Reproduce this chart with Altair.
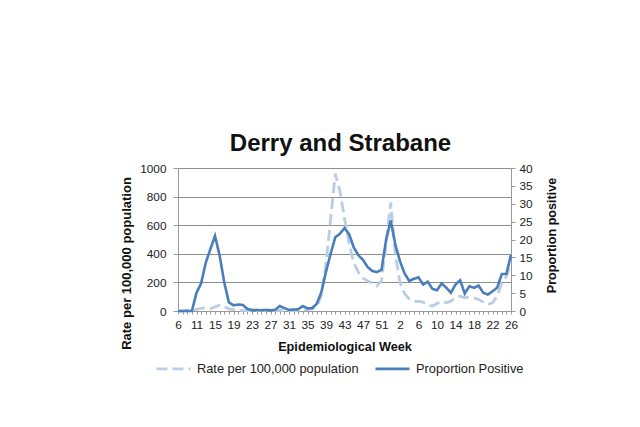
import altair as alt
import pandas as pd

# Epidemiological weeks (2020 weeks then 2021 weeks)
weeks = [6] + list(range(8, 54)) + list(range(1, 27))

# Rate per 100,000 population (left axis)
rate = [0, 0, 5, 8, 12, 18, 22, 15, 28, 40,
        30, 15, 10, 6, 4, 3, 2, 2, 2, 2,
        2, 3, 5, 4, 3, 3, 4, 8, 10, 15,
        35, 110, 330, 640, 960, 840, 650, 470, 340, 270,
        230, 210, 195, 175, 210, 470, 760, 390, 200, 120,
        85, 70, 68, 62, 40, 35, 53, 69, 58, 69,
        92, 104, 92, 99, 92, 81, 62, 46, 58, 104,
        196, 242, 330]

# Proportion positive (right axis)
pct = [0, 0, 0, 0, 5.1, 7.7, 13.5, 17.3, 21.0, 15.5,
       8.0, 2.4, 1.6, 1.8, 1.7, 0.6, 0.3, 0.3, 0.2, 0.3,
       0.2, 0.3, 1.4, 0.8, 0.3, 0.4, 0.5, 1.4, 0.7, 0.8,
       2.0, 5.3, 11.0, 16.0, 20.6, 21.6, 23.2, 21.5, 17.8, 15.6,
       14.3, 12.3, 11.2, 10.9, 11.5, 20.0, 25.3, 18.5, 13.9, 10.5,
       8.4, 9.0, 9.4, 7.4, 8.2, 6.2, 5.8, 7.7, 6.5, 5.1,
       7.4, 8.6, 4.9, 6.9, 6.5, 7.1, 5.1, 4.6, 5.5, 6.5,
       10.3, 10.4, 15.7]

S1 = "Rate per 100,000 population"
S2 = "Proportion Positive"
series_names = [S1, S2]
series_colors = ["#b9cde5", "#4a7ebb"]

idx = list(range(len(weeks)))
df = pd.DataFrame({"idx": idx, "week": weeks, "rate": rate, "pct": pct})

FONT = "Liberation Sans"
label_arr = "[" + ",".join("'%d'" % w for w in weeks) + "]"
label_expr = "datum.value % 4 == 0 ? " + label_arr + "[datum.value] : ''"

x_enc = alt.X(
    "idx:Q",
    scale=alt.Scale(domain=[0, len(weeks) - 1], nice=False, zero=False),
    axis=alt.Axis(
        values=idx, labelExpr=label_expr, title="Epidemiological Week",
        grid=False, tickSize=3, tickColor="#999999", domainColor="#999999",
        labelFont=FONT, labelFontSize=11.8, labelColor="#222222", labelPadding=5,
        labelOverlap=False, labelFlush=False,
        titleFont=FONT, titleFontSize=12.7, titleFontWeight="bold", titleColor="#111111",
        titleY=35, titleBaseline="middle",
    ),
)

legend = alt.Legend(
    title=None, orient="none", direction="horizontal", legendX=-23, legendY=182,
    symbolType="stroke", symbolSize=1156, symbolStrokeWidth=2.6,
    labelFont=FONT, labelFontSize=12.8, labelColor="#222222", labelLimit=400,
    columnPadding=11, labelOffset=5,
)

color_enc = alt.Color("series:N", scale=alt.Scale(domain=series_names, range=series_colors), legend=legend)
dash_enc = alt.StrokeDash("series:N", scale=alt.Scale(domain=series_names, range=[[11, 5], [1, 0]]), legend=legend)

rate_layer = alt.Chart(df).transform_calculate(series="'" + S1 + "'").mark_line(
    strokeWidth=2.8
).encode(
    x=x_enc,
    y=alt.Y(
        "rate:Q",
        scale=alt.Scale(domain=[0, 1000], nice=False),
        axis=alt.Axis(
            orient="left", values=[0, 200, 400, 600, 800, 1000], format="d",
            title="Rate per 100,000 population",
            grid=True, gridColor="#8f8f8f", gridWidth=1,
            tickSize=5, tickColor="#999999", domainColor="#999999",
            labelFont=FONT, labelFontSize=11.8, labelColor="#222222", labelPadding=7,
            titleFont=FONT, titleFontSize=13, titleFontWeight="bold", titleColor="#111111",
            titleX=-52, titleY=95, titleAngle=270, titleAlign="center", titleBaseline="middle",
        ),
    ),
    color=color_enc,
    strokeDash=dash_enc,
)

pct_layer = alt.Chart(df).transform_calculate(series="'" + S2 + "'").mark_line(
    strokeWidth=2.6
).encode(
    x=x_enc,
    y=alt.Y(
        "pct:Q",
        scale=alt.Scale(domain=[0, 40], nice=False),
        axis=alt.Axis(
            orient="right", values=[0, 5, 10, 15, 20, 25, 30, 35, 40],
            title="Proportion positive", grid=False,
            tickSize=4, tickColor="#999999", domainColor="#999999",
            labelFont=FONT, labelFontSize=11.8, labelColor="#222222", labelPadding=4,
            titleFont=FONT, titleFontSize=12.6, titleFontWeight="bold", titleColor="#111111",
            titleX=40, titleY=67, titleAngle=270, titleAlign="center", titleBaseline="middle",
        ),
    ),
    color=color_enc,
    strokeDash=dash_enc,
)

chart = alt.layer(rate_layer, pct_layer).resolve_scale(y="independent").properties(
    width=333,
    height=143,
    title=alt.Title(
        "Derry and Strabane", font=FONT, fontSize=24, fontWeight="bold",
        color="#111111", anchor="middle", offset=7, dx=-4,
    ),
    autosize=alt.AutoSizeParams(type="none"),
    padding={"left": 170, "top": 160, "right": 110, "bottom": 100},
    background="white",
).configure_view(stroke=None)

chart.save("out.html", embed_options={"renderer": "svg", "actions": False})
